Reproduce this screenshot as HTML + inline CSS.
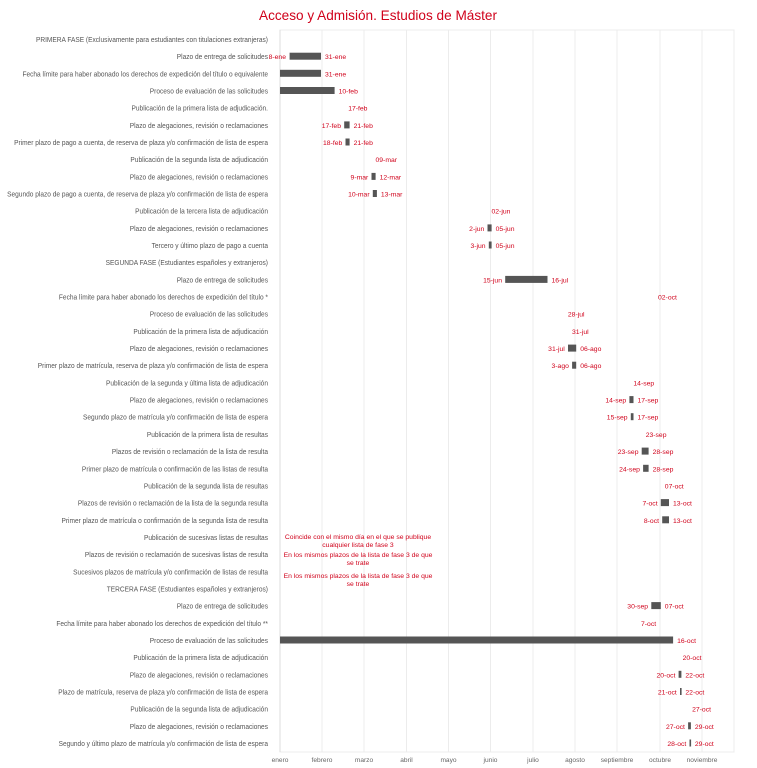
<!DOCTYPE html>
<html><head><meta charset="utf-8"><style>
html,body{margin:0;padding:0;background:#fff}
svg{display:block;font-family:"Liberation Sans",sans-serif}
.l{font-size:7.3px;fill:#555;text-anchor:end}
.d{font-size:6.8px;fill:#d0021b}
.e{text-anchor:end}
.m{font-size:6.6px;fill:#666;text-anchor:middle}
.n{font-size:6.8px;fill:#d0021b;text-anchor:middle}
.g{stroke:#ececec;stroke-width:1}
rect.b{fill:#555}
</style></head><body>
<svg width="757" height="768" viewBox="0 0 757 768">
<text x="378" y="20" text-anchor="middle" font-size="13.6" fill="#d0021b">Acceso y Admisión. Estudios de Máster</text>
<rect x="280" y="30" width="454" height="722" fill="none" stroke="#ececec"/>
<line class="g" x1="322" y1="30" x2="322" y2="752"/>
<line class="g" x1="364" y1="30" x2="364" y2="752"/>
<line class="g" x1="406.5" y1="30" x2="406.5" y2="752"/>
<line class="g" x1="448.5" y1="30" x2="448.5" y2="752"/>
<line class="g" x1="490.5" y1="30" x2="490.5" y2="752"/>
<line class="g" x1="533" y1="30" x2="533" y2="752"/>
<line class="g" x1="575" y1="30" x2="575" y2="752"/>
<line class="g" x1="617" y1="30" x2="617" y2="752"/>
<line class="g" x1="660" y1="30" x2="660" y2="752"/>
<line class="g" x1="702" y1="30" x2="702" y2="752"/>
<line x1="280" y1="30" x2="280" y2="752" stroke="#ddd"/>
<g class="m">
<text x="280" y="762">enero</text><text x="322" y="762">febrero</text><text x="364" y="762">marzo</text><text x="406.5" y="762">abril</text><text x="448.5" y="762">mayo</text><text x="490.5" y="762">junio</text><text x="533" y="762">julio</text><text x="575" y="762">agosto</text><text x="617" y="762">septiembre</text><text x="660" y="762">octubre</text><text x="702" y="762">noviembre</text>
</g>
<g class="l" transform="translate(268,0) scale(0.9,1) translate(-268,0)">
<text x="268" y="42">PRIMERA FASE (Exclusivamente para estudiantes con titulaciones extranjeras)</text>
<text x="268" y="59.2">Plazo de entrega de solicitudes</text>
<text x="268" y="76.3">Fecha límite para haber abonado los derechos de expedición del título o equivalente</text>
<text x="268" y="93.5">Proceso de evaluación de las solicitudes</text>
<text x="268" y="110.7">Publicación de la primera lista de adjudicación.</text>
<text x="268" y="127.9">Plazo de alegaciones, revisión o reclamaciones</text>
<text x="268" y="145">Primer plazo de pago a cuenta, de reserva de plaza y/o confirmación de lista de espera</text>
<text x="268" y="162.2">Publicación de la segunda lista de adjudicación</text>
<text x="268" y="179.4">Plazo de alegaciones, revisión o reclamaciones</text>
<text x="268" y="196.5">Segundo plazo de pago a cuenta, de reserva de plaza y/o confirmación de lista de espera</text>
<text x="268" y="213.7">Publicación de la tercera lista de adjudicación</text>
<text x="268" y="230.9">Plazo de alegaciones, revisión o reclamaciones</text>
<text x="268" y="248">Tercero y último plazo de pago a cuenta</text>
<text x="268" y="265.2">SEGUNDA FASE (Estudiantes españoles y extranjeros)</text>
<text x="268" y="282.4">Plazo de entrega de solicitudes</text>
<text x="268" y="299.6">Fecha límite para haber abonado los derechos de expedición del título *</text>
<text x="268" y="316.7">Proceso de evaluación de las solicitudes</text>
<text x="268" y="333.9">Publicación de la primera lista de adjudicación</text>
<text x="268" y="351.1">Plazo de alegaciones, revisión o reclamaciones</text>
<text x="268" y="368.2">Primer plazo de matrícula, reserva de plaza y/o confirmación de lista de espera</text>
<text x="268" y="385.4">Publicación de la segunda y última lista de adjudicación</text>
<text x="268" y="402.6">Plazo de alegaciones, revisión o reclamaciones</text>
<text x="268" y="419.7">Segundo plazo de matrícula y/o confirmación de lista de espera</text>
<text x="268" y="436.9">Publicación de la primera lista de resultas</text>
<text x="268" y="454.1">Plazos de revisión o reclamación de la lista de resulta</text>
<text x="268" y="471.3">Primer plazo de matrícula o confirmación de las listas de resulta</text>
<text x="268" y="488.4">Publicación de la segunda lista de resultas</text>
<text x="268" y="505.6">Plazos de revisión o reclamación de la lista de la segunda resulta</text>
<text x="268" y="522.8">Primer plazo de matrícula o confirmación de la segunda lista de resulta</text>
<text x="268" y="539.9">Publicación de sucesivas listas de resultas</text>
<text x="268" y="557.1">Plazos de revisión o reclamación de sucesivas listas de resulta</text>
<text x="268" y="574.3">Sucesivos plazos de matrícula y/o confirmación de listas de resulta</text>
<text x="268" y="591.4">TERCERA FASE (Estudiantes españoles y extranjeros)</text>
<text x="268" y="608.6">Plazo de entrega de solicitudes</text>
<text x="268" y="625.8">Fecha límite para haber abonado los derechos de expedición del título **</text>
<text x="268" y="643">Proceso de evaluación de las solicitudes</text>
<text x="268" y="660.1">Publicación de la primera lista de adjudicación</text>
<text x="268" y="677.3">Plazo de alegaciones, revisión o reclamaciones</text>
<text x="268" y="694.5">Plazo de matrícula, reserva de plaza y/o confirmación de lista de espera</text>
<text x="268" y="711.6">Publicación de la segunda lista de adjudicación</text>
<text x="268" y="728.8">Plazo de alegaciones, revisión o reclamaciones</text>
<text x="268" y="746">Segundo y último plazo de matrícula y/o confirmación de lista de espera</text>
</g>
<rect class="b" x="289.6" y="52.7" width="31.4" height="7"/>
<rect class="b" x="280" y="69.8" width="41" height="7"/>
<rect class="b" x="280" y="87" width="54.6" height="7"/>
<rect class="b" x="344.2" y="121.4" width="5.4" height="7"/>
<rect class="b" x="345.5" y="138.5" width="4.1" height="7"/>
<rect class="b" x="371.5" y="172.9" width="4.1" height="7"/>
<rect class="b" x="372.8" y="190" width="4.1" height="7"/>
<rect class="b" x="487.5" y="224.4" width="4.1" height="7"/>
<rect class="b" x="488.8" y="241.5" width="2.8" height="7"/>
<rect class="b" x="505.2" y="275.9" width="42.3" height="7"/>
<rect class="b" x="568" y="344.6" width="8.2" height="7"/>
<rect class="b" x="572.1" y="361.7" width="4.1" height="7"/>
<rect class="b" x="629.4" y="396.1" width="4.1" height="7"/>
<rect class="b" x="630.8" y="413.2" width="2.7" height="7"/>
<rect class="b" x="641.7" y="447.6" width="6.9" height="7"/>
<rect class="b" x="643.1" y="464.8" width="5.5" height="7"/>
<rect class="b" x="660.8" y="499.1" width="8.2" height="7"/>
<rect class="b" x="662.2" y="516.3" width="6.8" height="7"/>
<rect class="b" x="651.3" y="602.1" width="9.5" height="7"/>
<rect class="b" x="280" y="636.5" width="393.1" height="7"/>
<rect class="b" x="678.6" y="670.8" width="2.8" height="7"/>
<rect class="b" x="680" y="688" width="1.6" height="7"/>
<rect class="b" x="688.1" y="722.3" width="2.8" height="7"/>
<rect class="b" x="689.5" y="739.5" width="1.6" height="7"/>
<g class="d">
<text class="e" x="286" y="59.2">8-ene</text><text x="325" y="59.2">31-ene</text>
<text x="325" y="76.3">31-ene</text>
<text x="338.6" y="93.5">10-feb</text>
<text x="348.2" y="110.7">17-feb</text>
<text class="e" x="341" y="127.9">17-feb</text><text x="353.6" y="127.9">21-feb</text>
<text class="e" x="342.3" y="145">18-feb</text><text x="353.6" y="145">21-feb</text>
<text x="375.5" y="162.2">09-mar</text>
<text class="e" x="368.3" y="179.4">9-mar</text><text x="379.6" y="179.4">12-mar</text>
<text class="e" x="369.6" y="196.5">10-mar</text><text x="380.9" y="196.5">13-mar</text>
<text x="491.5" y="213.7">02-jun</text>
<text class="e" x="484.3" y="230.9">2-jun</text><text x="495.6" y="230.9">05-jun</text>
<text class="e" x="485.6" y="248">3-jun</text><text x="495.6" y="248">05-jun</text>
<text class="e" x="502" y="282.4">15-jun</text><text x="551.5" y="282.4">16-jul</text>
<text x="658" y="299.6">02-oct</text>
<text x="567.9" y="316.7">28-jul</text>
<text x="572" y="333.9">31-jul</text>
<text class="e" x="564.8" y="351.1">31-jul</text><text x="580.2" y="351.1">06-ago</text>
<text class="e" x="568.9" y="368.2">3-ago</text><text x="580.2" y="368.2">06-ago</text>
<text x="633.4" y="385.4">14-sep</text>
<text class="e" x="626.2" y="402.6">14-sep</text><text x="637.5" y="402.6">17-sep</text>
<text class="e" x="627.6" y="419.7">15-sep</text><text x="637.5" y="419.7">17-sep</text>
<text x="645.7" y="436.9">23-sep</text>
<text class="e" x="638.5" y="454.1">23-sep</text><text x="652.6" y="454.1">28-sep</text>
<text class="e" x="639.9" y="471.3">24-sep</text><text x="652.6" y="471.3">28-sep</text>
<text x="664.8" y="488.4">07-oct</text>
<text class="e" x="657.6" y="505.6">7-oct</text><text x="673" y="505.6">13-oct</text>
<text class="e" x="659" y="522.8">8-oct</text><text x="673" y="522.8">13-oct</text>
<text class="e" x="648.1" y="608.6">30-sep</text><text x="664.8" y="608.6">07-oct</text>
<text x="641" y="625.8">7-oct</text>
<text x="677.1" y="643">16-oct</text>
<text x="682.6" y="660.1">20-oct</text>
<text class="e" x="675.4" y="677.3">20-oct</text><text x="685.4" y="677.3">22-oct</text>
<text class="e" x="676.8" y="694.5">21-oct</text><text x="685.4" y="694.5">22-oct</text>
<text x="692.1" y="711.6">27-oct</text>
<text class="e" x="684.9" y="728.8">27-oct</text><text x="694.9" y="728.8">29-oct</text>
<text class="e" x="686.3" y="746">28-oct</text><text x="694.9" y="746">29-oct</text>
</g>
<g class="n">
<text x="358" y="539">Coincide con el mismo día en el que se publique</text>
<text x="358" y="547">cualquier lista de fase 3</text>
<text x="358" y="557">En los mismos plazos de la lista de fase 3 de que</text>
<text x="358" y="565">se trate</text>
<text x="358" y="578">En los mismos plazos de la lista de fase 3 de que</text>
<text x="358" y="586">se trate</text>
</g>
</svg>
</body></html>
